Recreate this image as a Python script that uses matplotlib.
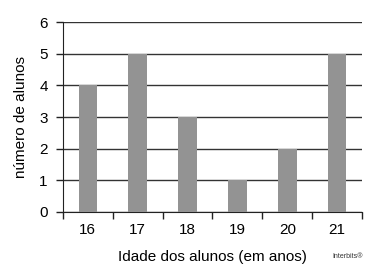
import matplotlib.pyplot as plt

plt.rcParams['font.family'] = ['Liberation Sans', 'DejaVu Sans']

# idades e quantidade de alunos
idades = ['16', '17', '18', '19', '20', '21']
alunos = [4, 5, 3, 1, 2, 5]

fig = plt.figure(figsize=(3.86, 2.76), dpi=100)
ax = fig.add_axes([0.163, 0.232, 0.775, 0.688])

pos = [i + 0.5 for i in range(len(idades))]
ax.bar(pos, alunos, width=0.37, color='#939393', linewidth=0, zorder=3)

ax.set_xlim(0, 6)
ax.set_ylim(0, 6)
ax.set_yticks(range(7))
ax.set_xticks(range(7))
ax.set_xticklabels([])
ax.set_xticks(pos, minor=True)
ax.set_xticklabels(idades, minor=True)
ax.tick_params(axis='x', which='minor', length=0, pad=8, labelsize=11)
ax.tick_params(axis='x', which='major', length=5, width=1, color='#222222')
ax.tick_params(axis='y', length=5, width=1, color='#222222', labelsize=11, pad=6)

ax.yaxis.grid(True, color='#333333', linewidth=1, zorder=0)
ax.spines['top'].set_visible(False)
ax.spines['right'].set_visible(False)
ax.spines['left'].set_color('#222222')
ax.spines['bottom'].set_color('#222222')

ax.set_xlabel('Idade dos alunos (em anos)', fontsize=11, labelpad=9)
ax.set_ylabel('número de alunos', fontsize=11, labelpad=8)
fig.text(0.94, 0.07, 'Interbits®', fontsize=5, ha='right', va='center', color='#333333')

fig.savefig('out.png', dpi=100)
